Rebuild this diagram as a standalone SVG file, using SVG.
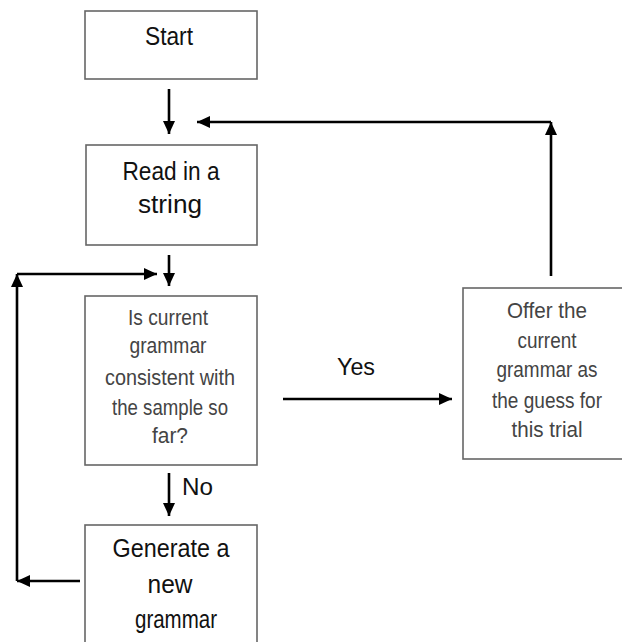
<svg xmlns="http://www.w3.org/2000/svg" width="622" height="642" viewBox="0 0 622 642">
<defs>
<marker id="ah" markerUnits="userSpaceOnUse" markerWidth="14" markerHeight="12" refX="13" refY="6" orient="auto">
<path d="M0,0 L13,6 L0,12 z" fill="#000"/>
</marker>
<style>
.box{fill:#fff;stroke:#666;stroke-width:1.6}
.big{font-family:"Liberation Sans",Arial,sans-serif;font-size:25px;fill:#111;text-anchor:middle}
.small{font-family:"Liberation Sans",Arial,sans-serif;font-size:21.5px;fill:#444;text-anchor:middle}
.lbl{font-family:"Liberation Sans",Arial,sans-serif;font-size:24px;fill:#111}
.c{fill:none;stroke:#000;stroke-width:2.6;marker-end:url(#ah)}
</style>
</defs>
<rect width="622" height="642" fill="#fff"/>
<g id="start">
<rect class="box" x="85" y="11" width="172" height="68"/>
<text class="big" x="169" y="45" textLength="48" lengthAdjust="spacingAndGlyphs">Start</text>
</g>
<g id="read">
<rect class="box" x="86" y="145" width="171" height="100"/>
<text class="big" x="171" y="180" textLength="97" lengthAdjust="spacingAndGlyphs">Read in a</text>
<text class="big" x="170" y="213" textLength="64" lengthAdjust="spacingAndGlyphs">string</text>
</g>
<g id="check">
<rect class="box" x="85" y="296" width="172" height="169"/>
<text class="small" x="168" y="325" textLength="80" lengthAdjust="spacingAndGlyphs">Is current</text>
<text class="small" x="168" y="353" textLength="77" lengthAdjust="spacingAndGlyphs">grammar</text>
<text class="small" x="170" y="385" textLength="130" lengthAdjust="spacingAndGlyphs">consistent with</text>
<text class="small" x="170" y="415" textLength="116" lengthAdjust="spacingAndGlyphs">the sample so</text>
<text class="small" x="170" y="443" textLength="36" lengthAdjust="spacingAndGlyphs">far?</text>
</g>
<g id="generate">
<rect class="box" x="85" y="525" width="172" height="125"/>
<text class="big" x="171" y="557" textLength="117" lengthAdjust="spacingAndGlyphs">Generate a</text>
<text class="big" x="170" y="593" textLength="45" lengthAdjust="spacingAndGlyphs">new</text>
<text class="big" x="176" y="628" textLength="82" lengthAdjust="spacingAndGlyphs">grammar</text>
</g>
<g id="offer">
<rect class="box" x="463" y="288" width="170" height="171"/>
<text class="small" x="547" y="318" textLength="80" lengthAdjust="spacingAndGlyphs">Offer the</text>
<text class="small" x="547" y="348" textLength="59" lengthAdjust="spacingAndGlyphs">current</text>
<text class="small" x="547" y="377" textLength="101" lengthAdjust="spacingAndGlyphs">grammar as</text>
<text class="small" x="547" y="408" textLength="110" lengthAdjust="spacingAndGlyphs">the guess for</text>
<text class="small" x="547" y="437" textLength="71" lengthAdjust="spacingAndGlyphs">this trial</text>
</g>
<g id="connectors">
<path class="c" d="M169,89 V134"/>
<path class="c" d="M551,276 V122"/>
<path class="c" d="M551,122 H197"/>
<path class="c" d="M169,255 V286"/>
<path class="c" d="M80,581 H17"/>
<path class="c" d="M17,581 V274"/>
<path class="c" d="M17,274 H157"/>
<path class="c" d="M169,473 V516"/>
<path class="c" d="M283,399 H452"/>
<text class="lbl" x="182" y="495" textLength="31" lengthAdjust="spacingAndGlyphs">No</text>
<text class="lbl" x="337" y="375" textLength="38" lengthAdjust="spacingAndGlyphs">Yes</text>
</g>
</svg>
